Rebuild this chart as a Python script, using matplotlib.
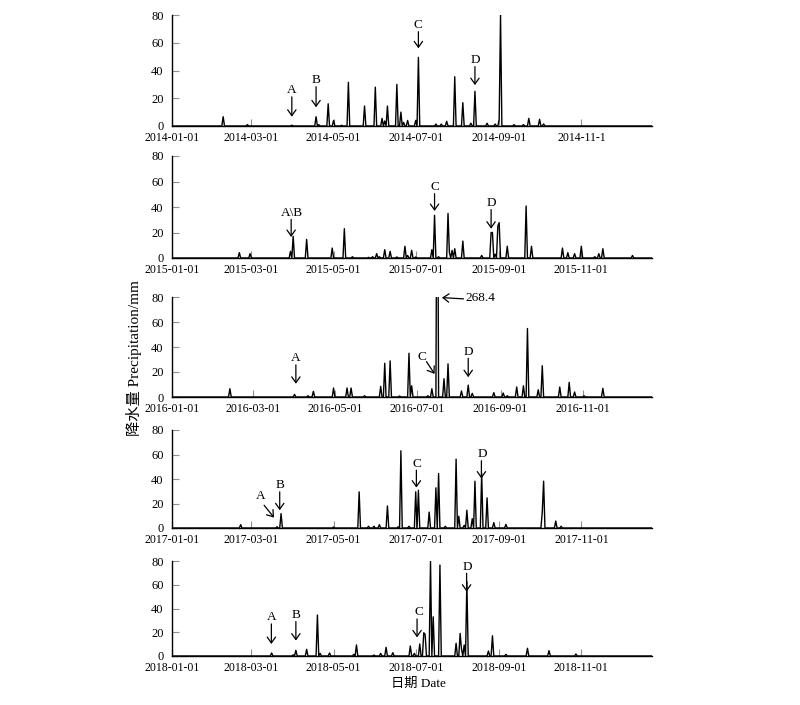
import numpy as np
import pandas as pd
import matplotlib
matplotlib.use('Agg')
import matplotlib.pyplot as plt

plt.rcParams['font.family'] = ['Liberation Serif', 'Noto Sans CJK SC']

# daily rain events: day offset from Jan 1 and amount (mm) ########################
years = [2014, 2015, 2016, 2017, 2018]

day_2014 = [38, 56, 89, 107, 109, 116, 120, 126, 131, 143, 151, 156, 158, 160, 167, 170, 172,
            175, 181, 183, 196, 200, 204, 210, 216, 222, 225, 234, 240, 243, 244, 254, 261,
            265, 273, 276]
mm_2014 = [6.7, 1, 0.6, 6.7, 1, 16, 4, 0.5, 31.5, 14.4, 28, 5.5, 3.6, 14.4, 30, 10, 2.6,
           4, 4, 49.5, 1.4, 1.4, 3.4, 35.5, 16.8, 2, 25, 2, 1.4, 4.8, 80, 1, 1,
           5.5, 4.8, 1.5]

day_2015 = [50, 58, 88, 90, 100, 119, 128, 134, 146, 149, 152, 154, 158, 162, 167, 173, 175,
            178, 181, 193, 195, 198, 205, 206, 208, 210, 216, 230, 237, 238, 240, 242, 243,
            249, 263, 267, 290, 294, 299, 304, 314, 317, 320, 342]
mm_2015 = [4.2, 3.4, 5.2, 17, 14.6, 7.8, 23, 1, 0.5, 1, 3.4, 1, 6.5, 5.2, 0.8, 9.2, 2,
           6, 0.8, 6.5, 33.5, 1, 35, 4.5, 6, 7.3, 13.3, 2, 20, 20, 3, 25, 27.7,
           9.2, 40.8, 9.2, 7.8, 4.2, 3.4, 9.2, 1, 3.4, 7.3, 2]

day_2016 = [43, 91, 101, 105, 120, 130, 133, 143, 155, 158, 162, 169, 176, 178, 190, 193, 197,
            202, 205, 215, 220, 223, 239, 246, 249, 256, 261, 264, 272, 275, 288, 295, 299,
            306, 320]
mm_2016 = [6.6, 2.1, 1, 4.5, 7.2, 7.2, 7.2, 1, 8.5, 27, 28.9, 0.8, 35, 9, 1, 6.6, 268.4,
           14.6, 26.5, 4.8, 9.5, 2.9, 3.5, 3.2, 1, 8, 9, 54.8, 5.8, 25, 8, 11.7, 4,
           1, 6.9]

day_2017 = [51, 78, 81, 120, 139, 146, 150, 154, 160, 168, 170, 176, 181, 183, 191, 196, 198,
            203, 211, 213, 217, 219, 223, 225, 230, 234, 239, 248, 275, 276, 285, 289]
mm_2017 = [2.7, 1, 11.7, 0.8, 29.5, 1.4, 1.4, 2.7, 18, 1, 63, 1.4, 29.5, 30.8, 13, 32.8, 44.5,
           1.4, 56.2, 9.6, 2.2, 14.5, 7.6, 38.2, 44.5, 24.6, 4.4, 3, 13, 38.2, 5.7, 1.4]

day_2018 = [74, 90, 92, 100, 108, 110, 117, 135, 137, 150, 155, 159, 164, 177, 180, 184, 187,
            188, 192, 194, 199, 211, 214, 215, 217, 219, 235, 238, 248, 264, 280, 300]
mm_2018 = [2.5, 1, 4.8, 5.6, 34.5, 2.2, 2.5, 1.4, 9.3, 0.8, 2.2, 7.3, 2.8, 8.4, 2.2, 10.1, 19.6,
           18.2, 80, 33, 76.6, 10.7, 19, 6, 9.3, 62.6, 4.2, 17, 1.4, 6.5, 4.5, 1.7]

rain_days = [day_2014, day_2015, day_2016, day_2017, day_2018]
rain_mm = [mm_2014, mm_2015, mm_2016, mm_2017, mm_2018]

tick_months = [1, 3, 5, 7, 9, 11]
yticks = [0, 20, 40, 60, 80]

# arrows: label, text x, text y, tail (x, y), tip (x, y)
arrows = {
    2014: [('A', 89, None, (89, 21), (89, 6.7)),
           ('B', 107, None, (107, 28.3), (107, 13.5)),
           ('C', 183, None, (183, 68), (183, 56)),
           ('D', 225, None, (225, 42.8), (225, 29.5))],
    2015: [('A\\B', 89, None, (88.5, 30.3), (88.5, 16.5)),
           ('C', 195, None, (195, 50.5), (195, 36.9)),
           ('D', 237.5, None, (237, 38), (237, 23))],
    2016: [('A', 92, None, (92, 25.7), (92, 10.6)),
           ('C', 186, 27.5, (189, 28.3), (195, 18.5)),
           ('D', 220, None, (220, 31), (220, 15.9))],
    2017: [('A', 65.9, 21, (68.4, 18.6), (75.8, 8.5)),
           ('B', 80.5, None, (80, 29.5), (80, 14.5)),
           ('C', 182, None, (181.5, 47.2), (181.5, 33)),
           ('D', 230.3, None, (229.8, 54.9), (229.8, 40.4))],
    2018: [('A', 73.8, None, (73.8, 27), (73.8, 10.1)),
           ('B', 92, None, (92, 29), (92, 13)),
           ('C', 183.5, None, (182, 31.2), (182, 15.7)),
           ('D', 219, None, (218.8, 69.6), (218.8, 54.2))],
}

# pixel boxes (top, bottom) of each panel
panel_px = [(15, 126), (156, 258), (297, 397), (430, 528), (561, 656)]
W, H = 800, 705
left, right = 172, 652

fig = plt.figure(figsize=(8, 7.05), dpi=100)
arrow_kw = dict(arrowstyle='->,head_length=0.35,head_width=0.25', mutation_scale=12,
                lw=0.9, color='black', shrinkA=0, shrinkB=0)

for i, year in enumerate(years):
    top, bot = panel_px[i]
    ax = fig.add_axes([left / W, 1 - bot / H, (right - left) / W, (bot - top) / H])

    start = pd.Timestamp(year, 1, 1)
    ndays = 366 if year % 4 == 0 else 365
    series = np.zeros(ndays)
    series[rain_days[i]] = rain_mm[i]
    ax.plot(np.arange(ndays), series, color='black', lw=1.0)

    ax.set_xlim(0, 356.5)
    ax.set_ylim(0, 80)
    xt = [(pd.Timestamp(year, m, 1) - start).days for m in tick_months]
    xl = ['%d-%02d-01' % (year, m) for m in tick_months]
    if year == 2014:
        xl[-1] = '2014-11-1'
    ax.set_xticks(xt)
    ax.set_xticklabels(xl)
    ax.set_yticks(yticks)
    ax.tick_params(direction='in', length=5, width=0.8, color='#909090',
                   labelsize=8.5, pad=4.5)
    ax.tick_params(axis='y', labelsize=9, pad=6)
    for s in ['top', 'right']:
        ax.spines[s].set_visible(False)
    for s in ['left', 'bottom']:
        ax.spines[s].set_linewidth(1.0)

    for lab, tx, ty, tail, tip in arrows[year]:
        ax.annotate('', xy=tip, xytext=tail, arrowprops=arrow_kw)
        if ty is None:
            ax.text(tx, tail[1] + 0.5, lab, ha='center', va='bottom', fontsize=9.5)
        else:
            ax.text(tx, ty, lab, ha='center', va='bottom', fontsize=9.5)

    if year == 2016:
        ax.annotate('', xy=(200.5, 79.5), xytext=(216.5, 78.5), arrowprops=arrow_kw,
                    annotation_clip=False)
        ax.text(218, 79, '268.4', ha='left', va='center', fontsize=9.5)

fig.text(134 / W, 1 - 358 / H, '降水量 Precipitation/mm', rotation=90,
         ha='center', va='center', fontsize=11)
fig.text(418 / W, 1 - 684 / H, '日期 Date', ha='center', va='center', fontsize=9.5)

fig.savefig('out.png', dpi=100)
